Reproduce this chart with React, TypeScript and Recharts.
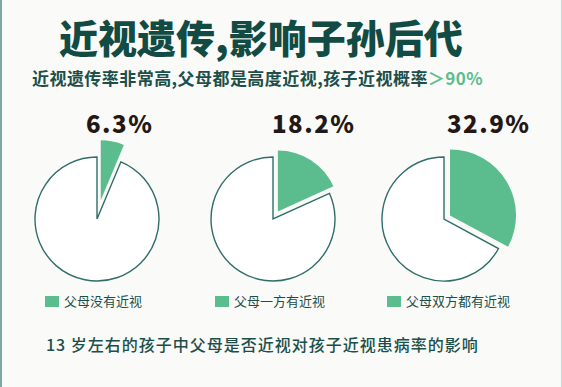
import React from 'react';
import { PieChart, Pie, Cell } from 'recharts';

const categories = ['父母没有近视', '父母一方有近视', '父母双方都有近视'];
const myopiaRates = [6.3, 18.2, 32.9];
const rateLabels = ['6.3%', '18.2%', '32.9%'];

const title = '近视遗传,影响子孙后代';
const subtitleMain = '近视遗传率非常高,父母都是高度近视,孩子近视概率';
const subtitleHighlight = '＞90%';
const footnote = '13 岁左右的孩子中父母是否近视对孩子近视患病率的影响';

const GREEN = '#5bbd8d';
const DARK = '#114b43';
const TEXT = '#1c4f49';
const FONT = '"Noto Sans CJK SC", "Noto Sans", sans-serif';

// layout (positions/sizes only)
const layout = [
  { cx: 97, cy: 219, r: 62, gr: 60, off: 19, labelX: 87, legendX: 45 },
  { cx: 273, cy: 219, r: 62, gr: 61, off: 9, labelX: 273, legendX: 215 },
  { cx: 444, cy: 219, r: 62, gr: 66, off: 7, labelX: 448, legendX: 387 },
];

export default function App() {
  const pies = myopiaRates.map((v, i) => {
    const data = [
      { name: categories[i], value: v },
      { name: '其他', value: 100 - v },
    ];
    const L = layout[i];
    const mid = ((v / 100) * 360) / 2;
    const rad = (mid * Math.PI) / 180;
    const gx = L.cx + L.off * Math.sin(rad);
    const gy = L.cy - L.off * Math.cos(rad);
    return (
      <React.Fragment key={i}>
        <Pie
          data={data}
          dataKey="value"
          cx={L.cx}
          cy={L.cy}
          outerRadius={L.r}
          innerRadius={0}
          startAngle={90}
          endAngle={-270}
          isAnimationActive={false}
          stroke="none"
        >
          <Cell fill="none" stroke="none" />
          <Cell fill="#ffffff" stroke="#2f6d69" strokeWidth={1.4} />
        </Pie>
        <Pie
          data={data}
          dataKey="value"
          cx={gx}
          cy={gy}
          outerRadius={L.gr}
          innerRadius={0}
          startAngle={90}
          endAngle={-270}
          isAnimationActive={false}
          stroke="none"
        >
          <Cell fill={GREEN} stroke="none" />
          <Cell fill="none" stroke="none" />
        </Pie>
      </React.Fragment>
    );
  });

  return (
    <div
      style={{
        position: 'relative',
        width: 562,
        height: 387,
        background: '#fafaf8',
        fontFamily: FONT,
        overflow: 'hidden',
      }}
    >
      <style>{`body{margin:0;}`}</style>
      <div style={{ position: 'absolute', left: 0, top: 0, width: 2, height: 387, background: '#7fa5a5' }} />
      <div style={{ position: 'absolute', right: 0, top: 0, width: 1, height: 387, background: '#c9d6d6' }} />
      <div style={{ position: 'absolute', left: 0, top: 0, width: 562, height: 387 }}>
        <PieChart width={562} height={387} margin={{ top: 0, right: 0, bottom: 0, left: 0 }}>
          {pies}
        </PieChart>
      </div>
      <div
        style={{
          position: 'absolute',
          left: 59,
          top: 13,
          fontSize: 39,
          lineHeight: '46px',
          fontWeight: 900,
          color: DARK,
          whiteSpace: 'nowrap',
        }}
      >
        {title}
      </div>
      <div
        style={{
          position: 'absolute',
          left: 32,
          top: 67,
          fontSize: 17,
          lineHeight: '22px',
          fontWeight: 700,
          letterSpacing: 0.45,
          color: TEXT,
          whiteSpace: 'nowrap',
        }}
      >
        {subtitleMain}
        <span style={{ color: GREEN }}>{subtitleHighlight}</span>
      </div>
      {rateLabels.map((t, i) => (
        <div
          key={t}
          style={{
            position: 'absolute',
            left: layout[i].labelX - 1,
            top: 109,
            fontSize: 24,
            lineHeight: '28px',
            fontWeight: 900,
            letterSpacing: 1.5,
            color: '#231815',
            whiteSpace: 'nowrap',
          }}
        >
          {t}
        </div>
      ))}
      {categories.map((c, i) => (
        <div
          key={c}
          style={{
            position: 'absolute',
            left: layout[i].legendX,
            top: 292,
            height: 18,
            display: 'flex',
            alignItems: 'center',
            whiteSpace: 'nowrap',
          }}
        >
          <span
            style={{
              display: 'inline-block',
              width: 14,
              height: 11,
              background: GREEN,
              marginRight: 5,
            }}
          />
          <span style={{ fontSize: 13, color: TEXT, lineHeight: '18px' }}>{c}</span>
        </div>
      ))}
      <div
        style={{
          position: 'absolute',
          left: 46,
          top: 333,
          fontSize: 16,
          lineHeight: '22px',
          fontWeight: 500,
          letterSpacing: 1,
          color: TEXT,
          whiteSpace: 'nowrap',
        }}
      >
        {footnote}
      </div>
    </div>
  );
}
